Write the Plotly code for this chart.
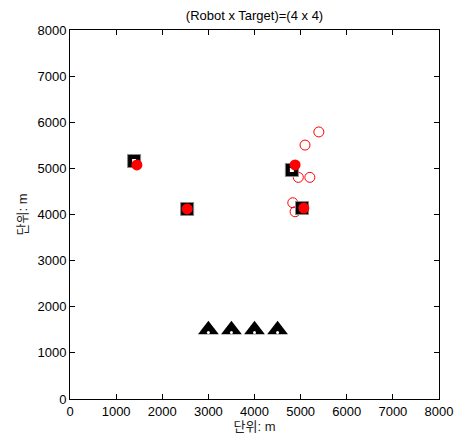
import plotly.graph_objects as go

robot_x = [3000, 3500, 4000, 4500]
robot_y = [1500, 1500, 1500, 1500]

target_x = [1390, 2540, 4810, 5030]
target_y = [5160, 4120, 4965, 4140]

assigned_x = [1450, 2540, 4880, 5070]
assigned_y = [5075, 4120, 5075, 4140]

path_x = [5395, 5095, 4950, 5200, 4830, 4880]
path_y = [5790, 5505, 4805, 4805, 4255, 4060]

title_text = "(Robot x Target)=(4 x 4)"
axis_label = "단위: m"
tick_vals = [0, 1000, 2000, 3000, 4000, 5000, 6000, 7000, 8000]

FONT = "Liberation Sans, Arial, Noto Sans CJK KR, sans-serif"

fig = go.Figure()
fig.add_trace(go.Scatter(x=path_x, y=path_y, mode="markers",
                         marker=dict(symbol="circle-open", size=10, color="red", line=dict(width=1, color="red"))))
fig.add_trace(go.Scatter(x=target_x, y=target_y, mode="markers",
                         marker=dict(symbol="square", size=13, color="black", line=dict(width=1, color="#888888"))))
fig.add_trace(go.Scatter(x=target_x, y=target_y, mode="markers",
                         marker=dict(symbol="square", size=4, color="white")))
fig.add_trace(go.Scatter(x=assigned_x, y=assigned_y, mode="markers",
                         marker=dict(symbol="circle", size=11, color="red", line=dict(width=0))))
fig.add_trace(go.Scatter(x=robot_x, y=robot_y, mode="markers",
                         marker=dict(symbol="triangle-up", size=18, color="black", line=dict(width=0))))
fig.add_trace(go.Scatter(x=robot_x, y=[v - 60 for v in robot_y], mode="markers",
                         marker=dict(symbol="circle", size=3, color="white")))

axis_common = dict(range=[0, 8000], tickvals=tick_vals, ticks="inside", ticklen=5,
                   showline=True, linecolor="black", linewidth=1, mirror="ticks",
                   showgrid=False, zeroline=False, tickcolor="black", automargin=False,
                   tickfont=dict(family=FONT, size=13, color="black"))

fig.update_layout(
    width=457, height=438,
    margin=dict(l=70, r=18, t=30, b=39, autoexpand=False),
    paper_bgcolor="white", plot_bgcolor="white",
    showlegend=False,
    title=dict(text=title_text, x=(70 + 439) / 2 / 457, xanchor="center", y=1 - 15 / 438, yanchor="middle",
               automargin=False, font=dict(family=FONT, size=13, color="black")),
    xaxis=dict(**axis_common, title=dict(text=axis_label, standoff=4,
                                         font=dict(family=FONT, size=13, color="#222222"))),
    yaxis=dict(**axis_common, title=dict(text=axis_label, standoff=6,
                                         font=dict(family=FONT, size=13, color="#222222"))),
)

fig.write_html("out.html", config={"displayModeBar": False},
               post_script="document.body.style.margin='0';document.body.style.overflow='hidden';")
